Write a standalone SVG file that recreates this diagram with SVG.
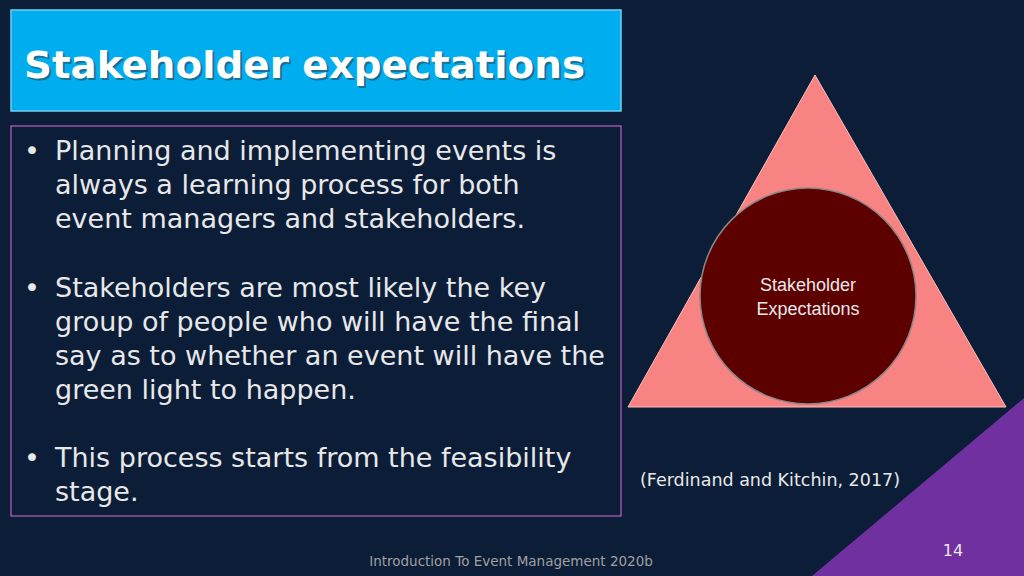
<svg xmlns="http://www.w3.org/2000/svg" width="1024" height="576" viewBox="0 0 1024 576">
<defs><style>
.b{font-family:"DejaVu Sans",sans-serif;font-size:27px;fill:#e8e8e8}
.s{font-family:"DejaVu Sans",sans-serif;fill:#e8e8e8}
</style></defs>
<rect width="1024" height="576" fill="#0c1d38"/>
<g id="title"><rect x="11" y="10" width="610" height="101" fill="#00aeef" stroke="#6fd0f5" stroke-width="1.5"/>
<text x="26" y="80" font-family="DejaVu Sans,sans-serif" font-weight="bold" font-size="38" fill="#333" opacity="0.5" textLength="561" lengthAdjust="spacingAndGlyphs">Stakeholder expectations</text>
<text x="24" y="78" font-family="DejaVu Sans,sans-serif" font-weight="bold" font-size="38" fill="#fff" textLength="561" lengthAdjust="spacingAndGlyphs">Stakeholder expectations</text></g>
<g id="content"><rect x="11" y="126" width="610" height="390" fill="none" stroke="#c060c0" stroke-width="1.2"/>
<text class="b"><tspan x="24" y="160">•</tspan><tspan x="55" y="160">Planning and implementing events is</tspan><tspan x="55" y="194">always a learning process for both</tspan><tspan x="55" y="228">event managers and stakeholders.</tspan>
<tspan x="24" y="297">•</tspan><tspan x="55" y="297">Stakeholders are most likely the key</tspan><tspan x="55" y="331">group of people who will have the final</tspan><tspan x="55" y="365">say as to whether an event will have the</tspan><tspan x="55" y="399">green light to happen.</tspan>
<tspan x="24" y="467">•</tspan><tspan x="55" y="467">This process starts from the feasibility</tspan><tspan x="55" y="501">stage.</tspan></text></g>
<g id="triangle"><polygon points="815,75 1006,407 628,407" fill="#f78383" stroke="#fbb" stroke-width="1"/></g>
<g id="circle"><circle cx="808" cy="296" r="108" fill="#5c0000" stroke="#888" stroke-width="1.5"/>
<text font-family="Liberation Sans,Arial,sans-serif" fill="#e8e8e8" font-size="18" text-anchor="middle"><tspan x="808" y="291">Stakeholder</tspan><tspan x="808" y="315">Expectations</tspan></text></g>
<text class="s" x="640" y="486" font-size="17.5">(Ferdinand and Kitchin, 2017)</text>
<polygon points="1024,398 1024,576 812,576" fill="#7030a0"/>
<text class="s" x="953" y="556" font-size="16" text-anchor="middle">14</text>
<text x="511" y="566" font-family="DejaVu Sans,sans-serif" font-size="13.5" fill="#a0a0a0" text-anchor="middle">Introduction To Event Management 2020b</text>
</svg>
